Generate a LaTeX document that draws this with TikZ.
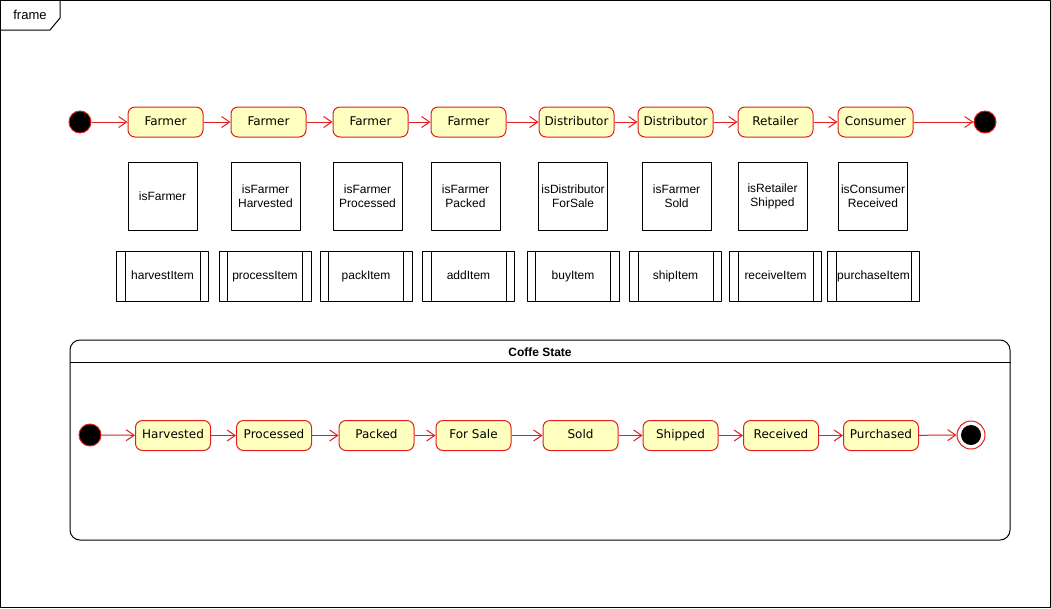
\documentclass[tikz,border=0pt]{standalone}
\usepackage{fontspec}
\setmainfont{Liberation Sans}
\newfontfamily\statefont{DejaVu Sans}
\usetikzlibrary{arrows.meta}
\definecolor{statered}{HTML}{E01E1E}
\definecolor{statefill}{HTML}{FFFFC0}
\begin{document}
\begin{tikzpicture}[x=1pt,y=-1pt,>={Straight Barb[length=8pt,width=11pt]},line join=bevel,line width=1pt,
  state/.style={draw=statered,fill=statefill,rounded corners=7pt,minimum width=75pt,minimum height=30pt,inner sep=0pt,text height=9pt,text depth=2.5pt,font=\statefont\fontsize{12}{14}\selectfont},
  flag/.style={draw,minimum width=69pt,minimum height=68pt,inner sep=0pt,align=center,font=\fontsize{12}{14}\selectfont},
  call/.style={draw,minimum width=92pt,minimum height=50pt,inner sep=0pt,text height=9pt,text depth=2.5pt,font=\fontsize{12}{14}\selectfont},
  dot/.style={circle,draw=statered,fill=black,minimum size=22pt,inner sep=0pt},
  flow/.style={statered,->,line width=1pt},
]
\useasboundingbox (0,0) rectangle (1051,608);
%%
  \draw (0.5,0.5) rectangle (1050.5,607.5);
  \draw (0.5,30) -- (50,30) -- (60,18) -- (60,0.5);
  \node (frame) at (30,15) [font=\fontsize{13}{15}\selectfont] {frame};

  % roles
  \node (start_1) at (80,122) [dot] {};
  \node (role_1) at (165.5,122) [state] {Farmer};
  \node (role_2) at (268.5,122) [state] {Farmer};
  \node (role_3) at (370.5,122) [state] {Farmer};
  \node (role_4) at (468.5,122) [state] {Farmer};
  \node (role_5) at (576.5,122) [state] {Distributor};
  \node (role_6) at (675.5,122) [state] {Distributor};
  \node (role_7) at (775.5,122) [state] {Retailer};
  \node (role_8) at (875.5,122) [state] {Consumer};
  \node (end_1) at (985,122) [dot] {};

  \draw [flow] (start_1) edge (role_1);
  \draw [flow] (role_1) edge (role_2);
  \draw [flow] (role_2) edge (role_3);
  \draw [flow] (role_3) edge (role_4);
  \draw [flow] (role_4) edge (role_5);
  \draw [flow] (role_5) edge (role_6);
  \draw [flow] (role_6) edge (role_7);
  \draw [flow] (role_7) edge (role_8);
  \draw [flow] (role_8) edge (end_1);

  % modifiers
  \node (flag_1) at (162.5,196) [flag] {isFarmer};
  \node (flag_2) at (265.5,196) [flag] {isFarmer\\Harvested};
  \node (flag_3) at (367.5,196) [flag] {isFarmer\\Processed};
  \node (flag_4) at (465.5,196) [flag] {isFarmer\\Packed};
  \node (flag_5) at (573,196) [flag] {isDistributor\\ForSale};
  \node (flag_6) at (676.5,196) [flag] {isFarmer\\Sold};
  \node (flag_7) at (772.5,196) [flag] {isRetailer\\Shipped};
  \node (flag_8) at (873,196) [flag] {isConsumer\\Received};

  % functions
  \node (call_1) at (162.5,276.5) [call] {harvestItem};
  \node (call_2) at (265,276.5) [call] {processItem};
  \node (call_3) at (366,276.5) [call] {packItem};
  \node (call_4) at (468.5,276.5) [call] {addItem};
  \node (call_5) at (573,276.5) [call] {buyItem};
  \node (call_6) at (675.5,276.5) [call] {shipItem};
  \node (call_7) at (775.5,276.5) [call] {receiveItem};
  \node (call_8) at (873.5,276.5) [call] {purchaseItem};
  \foreach \n in {1,...,8} {
    \draw ([xshift=9pt]call_\n.north west) -- ([xshift=9pt]call_\n.south west);
    \draw ([xshift=-9pt]call_\n.north east) -- ([xshift=-9pt]call_\n.south east);
  }

  % coffe state
  \node (coffe) at (540,440) [draw,rounded corners=10pt,minimum width=940pt,minimum height=200pt] {};
  \draw ([yshift=-23pt]coffe.north west) -- ([yshift=-23pt]coffe.north east);
  \node (coffe_title) at (540,352) [font=\bfseries\fontsize{12}{14}\selectfont] {Coffe State};

  \node (start_2) at (90,435) [dot] {};
  \node (st_1) at (173,435.5) [state] {Harvested};
  \node (st_2) at (274,435.5) [state] {Processed};
  \node (st_3) at (376.5,435.5) [state] {Packed};
  \node (st_4) at (473.5,435.5) [state] {For Sale};
  \node (st_5) at (580.5,435.5) [state] {Sold};
  \node (st_6) at (680.5,435.5) [state] {Shipped};
  \node (st_7) at (781,435.5) [state] {Received};
  \node (st_8) at (881,435.5) [state] {Purchased};
  \node (end_2) at (971,435) [circle,draw=statered,fill=white,minimum size=28pt,inner sep=0pt] {};
  \fill (end_2) circle (10pt);

  \draw [flow] (start_2) edge (st_1);
  \draw [flow] (st_1) edge (st_2);
  \draw [flow] (st_2) edge (st_3);
  \draw [flow] (st_3) edge (st_4);
  \draw [flow] (st_4) edge (st_5);
  \draw [flow] (st_5) edge (st_6);
  \draw [flow] (st_6) edge (st_7);
  \draw [flow] (st_7) edge (st_8);
  \draw [flow] (st_8) edge (end_2);

\end{tikzpicture}
\end{document}
